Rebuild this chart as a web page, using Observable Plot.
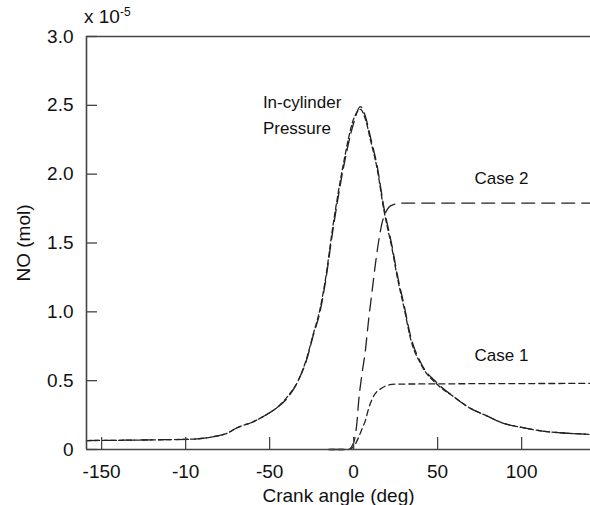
<!DOCTYPE html>
<html><head><meta charset="utf-8">
<script src="https://cdn.jsdelivr.net/npm/d3@7"></script>
<script src="https://cdn.jsdelivr.net/npm/@observablehq/plot@0.6"></script>
<style>
body{margin:0;background:#fff;font-family:"Liberation Sans",Arial,sans-serif;}
#wrap{position:relative;width:590px;height:505px;}
#exp{position:absolute;left:84px;top:6px;font-size:19px;color:#111;line-height:1;}
#exp sup{font-size:12px;}
</style></head><body><div id="wrap"><div id="exp">x 10<sup>-5</sup></div></div>
<script>
// tick values and labels
const xTicks = [-150, -100, -50, 0, 50, 100];
const xTickLabels = ["-150", "-10", "-50", "0", "50", "100"];
const yTicks = [0, 0.5, 1, 1.5, 2, 2.5, 3];
const yTickLabels = ["0", "0.5", "1.0", "1.5", "2.0", "2.5", "3.0"];
const xDomain = [-159, 141];

// In-cylinder pressure (scaled to the NO axis), two nearly identical traces
const pressureAngle = [-159, -120, -95, -85, -75, -69, -60, -51, -45, -39, -33, -28, -24, -20, -17, -12, -6, 0, 4, 7, 10, 14, 18, 23, 26, 30, 34, 40, 50, 60, 68, 80, 87, 100, 115, 125, 141];
const pressureLong = [0.065, 0.07, 0.075, 0.09, 0.12, 0.16, 0.2, 0.26, 0.31, 0.38, 0.5, 0.65, 0.83, 1.0, 1.2, 1.62, 2.05, 2.37, 2.49, 2.42, 2.27, 2.06, 1.76, 1.47, 1.27, 1.05, 0.82, 0.63, 0.48, 0.38, 0.31, 0.24, 0.2, 0.16, 0.13, 0.12, 0.11];
const pressureShort = [0.065, 0.07, 0.076, 0.09, 0.12, 0.16, 0.2, 0.26, 0.31, 0.39, 0.5, 0.66, 0.84, 1.02, 1.22, 1.65, 2.08, 2.4, 2.47, 2.4, 2.25, 2.04, 1.74, 1.45, 1.25, 1.03, 0.8, 0.62, 0.47, 0.38, 0.31, 0.24, 0.2, 0.16, 0.13, 0.12, 0.11];

// NO formation, Case 2 (long dash)
const case2Angle = [-14, -3, 0, 2, 3, 5, 7, 9, 11, 13, 15, 17, 19, 21, 24, 28, 141];
const case2NO = [0, 0, 0.05, 0.2, 0.35, 0.55, 0.72, 0.95, 1.15, 1.35, 1.52, 1.65, 1.72, 1.76, 1.78, 1.79, 1.79];

// NO formation, Case 1 (short dash)
const case1Angle = [-15, -3, 0, 3, 5, 7, 9, 12, 16, 20, 25, 141];
const case1NO = [0, 0, 0.02, 0.09, 0.15, 0.21, 0.3, 0.39, 0.44, 0.465, 0.475, 0.48];

// annotations
const noteText = ["In-cylinder", "Pressure", "Case 2", "Case 1"];
const noteX = [-54, -54, 72, 72];
const noteY = [2.52, 2.33, 1.97, 0.68];

const toRows = (xs, ys) => xs.map((x, i) => ({x, y: ys[i]}));
const notes = noteText.map((t, i) => ({t, x: noteX[i], y: noteY[i]}));

const ink = "#222";
const axisInk = "#444";
const chart = Plot.plot({
  width: 590, height: 505,
  marginTop: 36, marginBottom: 56, marginLeft: 86, marginRight: 0,
  style: {fontFamily: "'Liberation Sans', Arial, sans-serif", fontSize: "19px", color: "#111", background: "#fff"},
  x: {domain: xDomain},
  y: {domain: [0, 3]},
  marks: [
    Plot.line(toRows(pressureAngle, pressureLong), {x: "x", y: "y", stroke: ink, strokeWidth: 1.3, strokeDasharray: "12,6", curve: "monotone-x"}),
    Plot.line(toRows(pressureAngle, pressureShort), {x: "x", y: "y", stroke: ink, strokeWidth: 1.3, strokeDasharray: "5,3", curve: "monotone-x"}),
    Plot.line(toRows(case2Angle, case2NO), {x: "x", y: "y", stroke: ink, strokeWidth: 1.3, strokeDasharray: "13,7", curve: "monotone-x"}),
    Plot.line(toRows(case1Angle, case1NO), {x: "x", y: "y", stroke: ink, strokeWidth: 1.3, strokeDasharray: "6,4", curve: "monotone-x"}),
    Plot.text(notes, {x: "x", y: "y", text: "t", textAnchor: "start", fontSize: 17, fill: "#111"}),
    Plot.ruleY([3], {stroke: axisInk, strokeWidth: 1.6}),
    Plot.ruleY([0], {stroke: axisInk, strokeWidth: 1.6}),
    Plot.ruleX([xDomain[0]], {stroke: axisInk, strokeWidth: 1.6}),
    Plot.axisY(yTicks, {tickSize: -11, tickPadding: 24, stroke: axisInk, strokeWidth: 1.3, fontSize: 19,
      tickFormat: d => yTickLabels[yTicks.indexOf(d)],
      label: "NO (mol)", labelAnchor: "center", labelOffset: 70, labelArrow: "none"}),
    Plot.axisX(xTicks, {tickSize: -12, tickPadding: 27, stroke: axisInk, strokeWidth: 1.3, fontSize: 19,
      tickFormat: d => xTickLabels[xTicks.indexOf(d)],
      label: "Crank angle (deg)", labelAnchor: "center", labelOffset: 52, labelArrow: "none"})
  ]
});
document.getElementById("wrap").appendChild(chart);
</script></body></html>
